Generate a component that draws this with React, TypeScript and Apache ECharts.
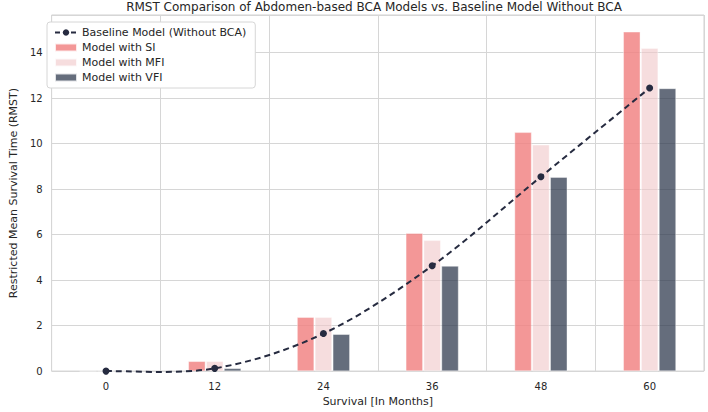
import React, { useEffect, useRef } from "react";
import * as echarts from "echarts";

const categories = ["0", "12", "24", "36", "48", "60"];
const baseline = [0, 0.12, 1.65, 4.63, 8.55, 12.45];
const si = [0, 0.43, 2.37, 6.06, 10.5, 14.92];
const mfi = [0, 0.43, 2.37, 5.75, 9.95, 14.2];
const vfi = [0, 0.12, 1.62, 4.62, 8.53, 12.43];
const yTicks = [0, 2, 4, 6, 8, 10, 12, 14];

const TITLE = "RMST Comparison of Abdomen-based BCA Models vs. Baseline Model Without BCA";
const FONT = "DejaVu Sans";
const LINE_COLOR = "#262b40";

export default function App() {
  const ref = useRef<HTMLDivElement>(null);
  useEffect(() => {
    if (!ref.current) return;
    document.body.style.margin = "0";
    const chart = echarts.init(ref.current, null, { renderer: "svg" });
    const curveData = baseline.map((v, i) => [i, v]);
    chart.setOption({
      animation: false,
      textStyle: { fontFamily: FONT },
      graphic: [
        {
          type: "text",
          x: 374,
          y: 7,
          style: {
            text: TITLE,
            align: "center",
            verticalAlign: "middle",
            fontFamily: FONT,
            fontSize: 12,
            fill: "#262626",
          },
        },
      ],
      legend: {
        orient: "vertical",
        left: 47,
        top: 22,
        padding: [5, 9, 5, 7],
        itemGap: 4,
        itemWidth: 22,
        itemHeight: 8,
        backgroundColor: "#ffffff",
        borderColor: "#d6d6d6",
        borderWidth: 1,
        borderRadius: 3,
        textStyle: { fontFamily: FONT, fontSize: 11, color: "#262626" },
        data: [
          {
            name: "Baseline Model (Without BCA)",
            lineStyle: { opacity: 1, width: 2, color: LINE_COLOR, type: [5, 3] },
          },
          { name: "Model with SI", icon: "rect" },
          { name: "Model with MFI", icon: "rect" },
          { name: "Model with VFI", icon: "rect" },
        ],
      },
      grid: {
        left: 43,
        right: 4,
        top: 15,
        bottom: 38,
        show: true,
        borderColor: "#d0d0d0",
        borderWidth: 1,
      },
      xAxis: {
        type: "category",
        data: categories,
        boundaryGap: true,
        name: "Survival [In Months]",
        nameLocation: "middle",
        nameGap: 23,
        nameTextStyle: { fontFamily: FONT, fontSize: 11, color: "#262626" },
        axisLine: { show: false },
        axisTick: { show: false },
        axisLabel: { fontFamily: FONT, fontSize: 10, color: "#262626", margin: 10 },
        splitLine: { show: true, interval: 0, lineStyle: { color: "#d6d6d6", width: 1 } },
      },
      yAxis: {
        type: "value",
        min: 0,
        max: 15.66,
        interval: 2,
        name: "Restricted Mean Survival Time (RMST)",
        nameLocation: "middle",
        nameGap: 31,
        nameTextStyle: { fontFamily: FONT, fontSize: 11, color: "#262626" },
        axisLine: { show: false },
        axisTick: { show: false },
        axisLabel: {
          fontFamily: FONT,
          fontSize: 10,
          color: "#262626",
          margin: 9,
          showMaxLabel: false,
          formatter: (v: number) => (yTicks.indexOf(v) >= 0 ? String(v) : ""),
        },
        splitLine: { show: true, lineStyle: { color: "#d6d6d6", width: 1 } },
      },
      series: [
        {
          name: "Model with SI",
          type: "bar",
          data: si,
          barWidth: 17,
          barGap: "5%",
          itemStyle: { color: "rgba(240,128,128,0.82)", borderColor: "rgba(255,255,255,0.8)", borderWidth: 0.5 },
          z: 2,
        },
        {
          name: "Model with MFI",
          type: "bar",
          data: mfi,
          barWidth: 17,
          barGap: "5%",
          itemStyle: { color: "rgba(240,200,202,0.62)", borderColor: "rgba(255,255,255,0.8)", borderWidth: 0.5 },
          z: 2,
        },
        {
          name: "Model with VFI",
          type: "bar",
          data: vfi,
          barWidth: 17,
          barGap: "5%",
          itemStyle: { color: "rgba(42,52,74,0.72)", borderColor: "rgba(255,255,255,0.8)", borderWidth: 0.5 },
          z: 2,
        },
        {
          name: "baselineCurve",
          type: "custom",
          data: curveData,
          encode: { x: 0, y: 1 },
          silent: true,
          z: 4,
          renderItem: (params: any, api: any) => {
            if (params.dataIndex !== 0) return null;
            const pts = curveData.map((d) => api.coord([d[0], d[1]]));
            const n = pts.length;
            let d = `M${pts[0][0]},${pts[0][1]}`;
            for (let i = 0; i < n - 1; i++) {
              const p0 = pts[Math.max(0, i - 1)];
              const p1 = pts[i];
              const p2 = pts[i + 1];
              const p3 = pts[Math.min(n - 1, i + 2)];
              const c1x = p1[0] + (p2[0] - p0[0]) / 6;
              const c1y = p1[1] + (p2[1] - p0[1]) / 6;
              const c2x = p2[0] - (p3[0] - p1[0]) / 6;
              const c2y = p2[1] - (p3[1] - p1[1]) / 6;
              d += ` C${c1x},${c1y} ${c2x},${c2y} ${p2[0]},${p2[1]}`;
            }
            return {
              type: "path",
              shape: { pathData: d },
              style: { fill: "none", stroke: LINE_COLOR, lineWidth: 2, lineDash: [6, 4] },
            };
          },
        },
        {
          name: "Baseline Model (Without BCA)",
          type: "line",
          data: baseline,
          smooth: false,
          symbol: "circle",
          symbolSize: 7,
          lineStyle: { opacity: 0, color: LINE_COLOR, width: 2 },
          itemStyle: { color: LINE_COLOR },
          z: 5,
        },
      ],
    });
    return () => chart.dispose();
  }, []);
  return <div ref={ref} style={{ width: 708, height: 412 }} />;
}
